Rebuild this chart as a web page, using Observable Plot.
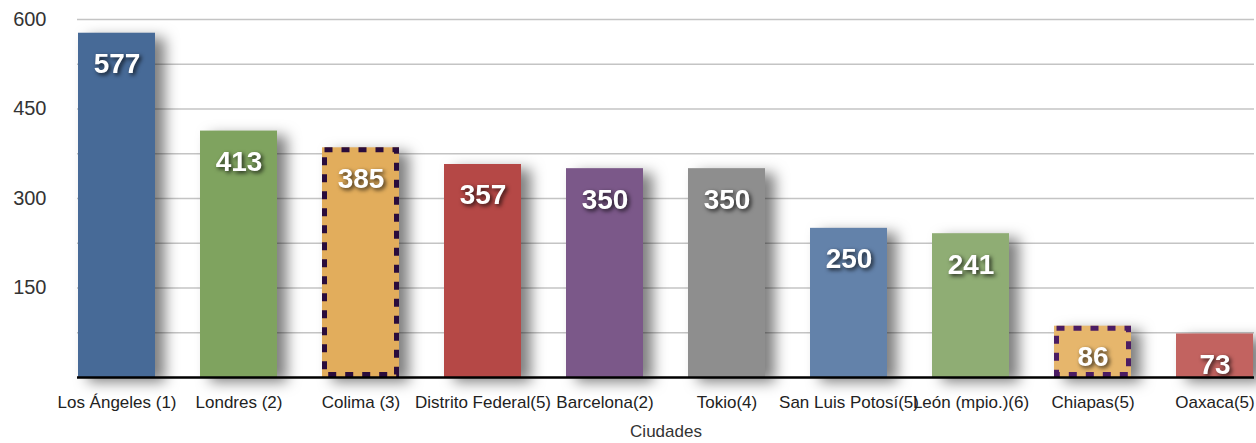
<!DOCTYPE html>
<html>
<head>
<meta charset="utf-8">
<script src="https://cdn.jsdelivr.net/npm/d3@7"></script>
<script src="https://cdn.jsdelivr.net/npm/@observablehq/plot@0.6"></script>
<style>
  html, body { margin: 0; padding: 0; background: #fff; }
  #chart svg { display: block; }
</style>
</head>
<body>
<div id="chart"></div>
<script>
const cities = ["Los Ángeles (1)", "Londres (2)", "Colima (3)", "Distrito Federal(5)", "Barcelona(2)", "Tokio(4)", "San Luis Potosí(5)", "León (mpio.)(6)", "Chiapas(5)", "Oaxaca(5)"];
const values = [577, 413, 385, 357, 350, 350, 250, 241, 86, 73];
const colors = ["#476a97", "#7fa35f", "#e2ad5c", "#b54846", "#7b5889", "#8e8e8e", "#6382aa", "#8fad74", "#e6b66c", "#c26360"];
const dashed = [false, false, true, false, false, false, false, false, true, false];
const borderColors = ["none", "none", "#2a0c3c", "none", "none", "none", "none", "none", "#4b1c63", "none"];
const yTicks = [150, 300, 450, 600];
const gridValues = [75, 150, 225, 300, 375, 450, 525, 600];
const xTitle = "Ciudades";

const data = cities.map((c, i) => ({city: c, value: values[i], color: colors[i], dashed: dashed[i], border: borderColors[i]}));
const dashedData = data.filter(d => d.dashed);

const chart = Plot.plot({
  width: 1256,
  height: 443,
  marginLeft: 77,
  marginRight: 2,
  marginTop: 19,
  marginBottom: 66,
  style: {fontFamily: "'Liberation Sans', Arial, sans-serif", background: "#fff"},
  x: {domain: cities, paddingInner: 0.37, paddingOuter: 0, label: null},
  y: {domain: [0, 600], label: null},
  marks: [
    Plot.ruleY(gridValues, {stroke: "#c4c4c4", strokeWidth: 1.5}),
    Plot.barY(data, {x: "city", y: "value", fill: d => d.color}),
    Plot.barY(dashedData, {x: "city", y: "value", fill: "none", stroke: d => d.border, strokeWidth: 5, strokeDasharray: "8,9", inset: 2.5}),
    Plot.ruleY([0], {stroke: "#000", strokeWidth: 2.5}),
    Plot.axisY({ticks: yTicks, tickSize: 0, tickPadding: 31, fontSize: 20, fill: "#333", label: null}),
    Plot.axisX({tickSize: 0, tickPadding: 18, fontSize: 17, fill: "#222", label: null}),
    Plot.text(data, {x: "city", y: "value", text: d => String(d.value), dy: 31, fill: "#fff", fontSize: 28, fontWeight: "bold"}),
    Plot.text([xTitle], {frameAnchor: "bottom", dy: 59, text: d => d, fontSize: 17, fill: "#333"})
  ]
});

document.getElementById("chart").appendChild(chart);

const svg = d3.select(chart);
svg.selectAll("g[aria-label='bar']").filter((d, i) => i === 0)
  .style("filter", "drop-shadow(10px 5px 7px rgba(0,0,0,0.5))");
svg.selectAll("g[aria-label='text']").filter((d, i) => i === 0)
  .style("filter", "drop-shadow(2px 2px 2px rgba(0,0,0,0.75))");
</script>
</body>
</html>
